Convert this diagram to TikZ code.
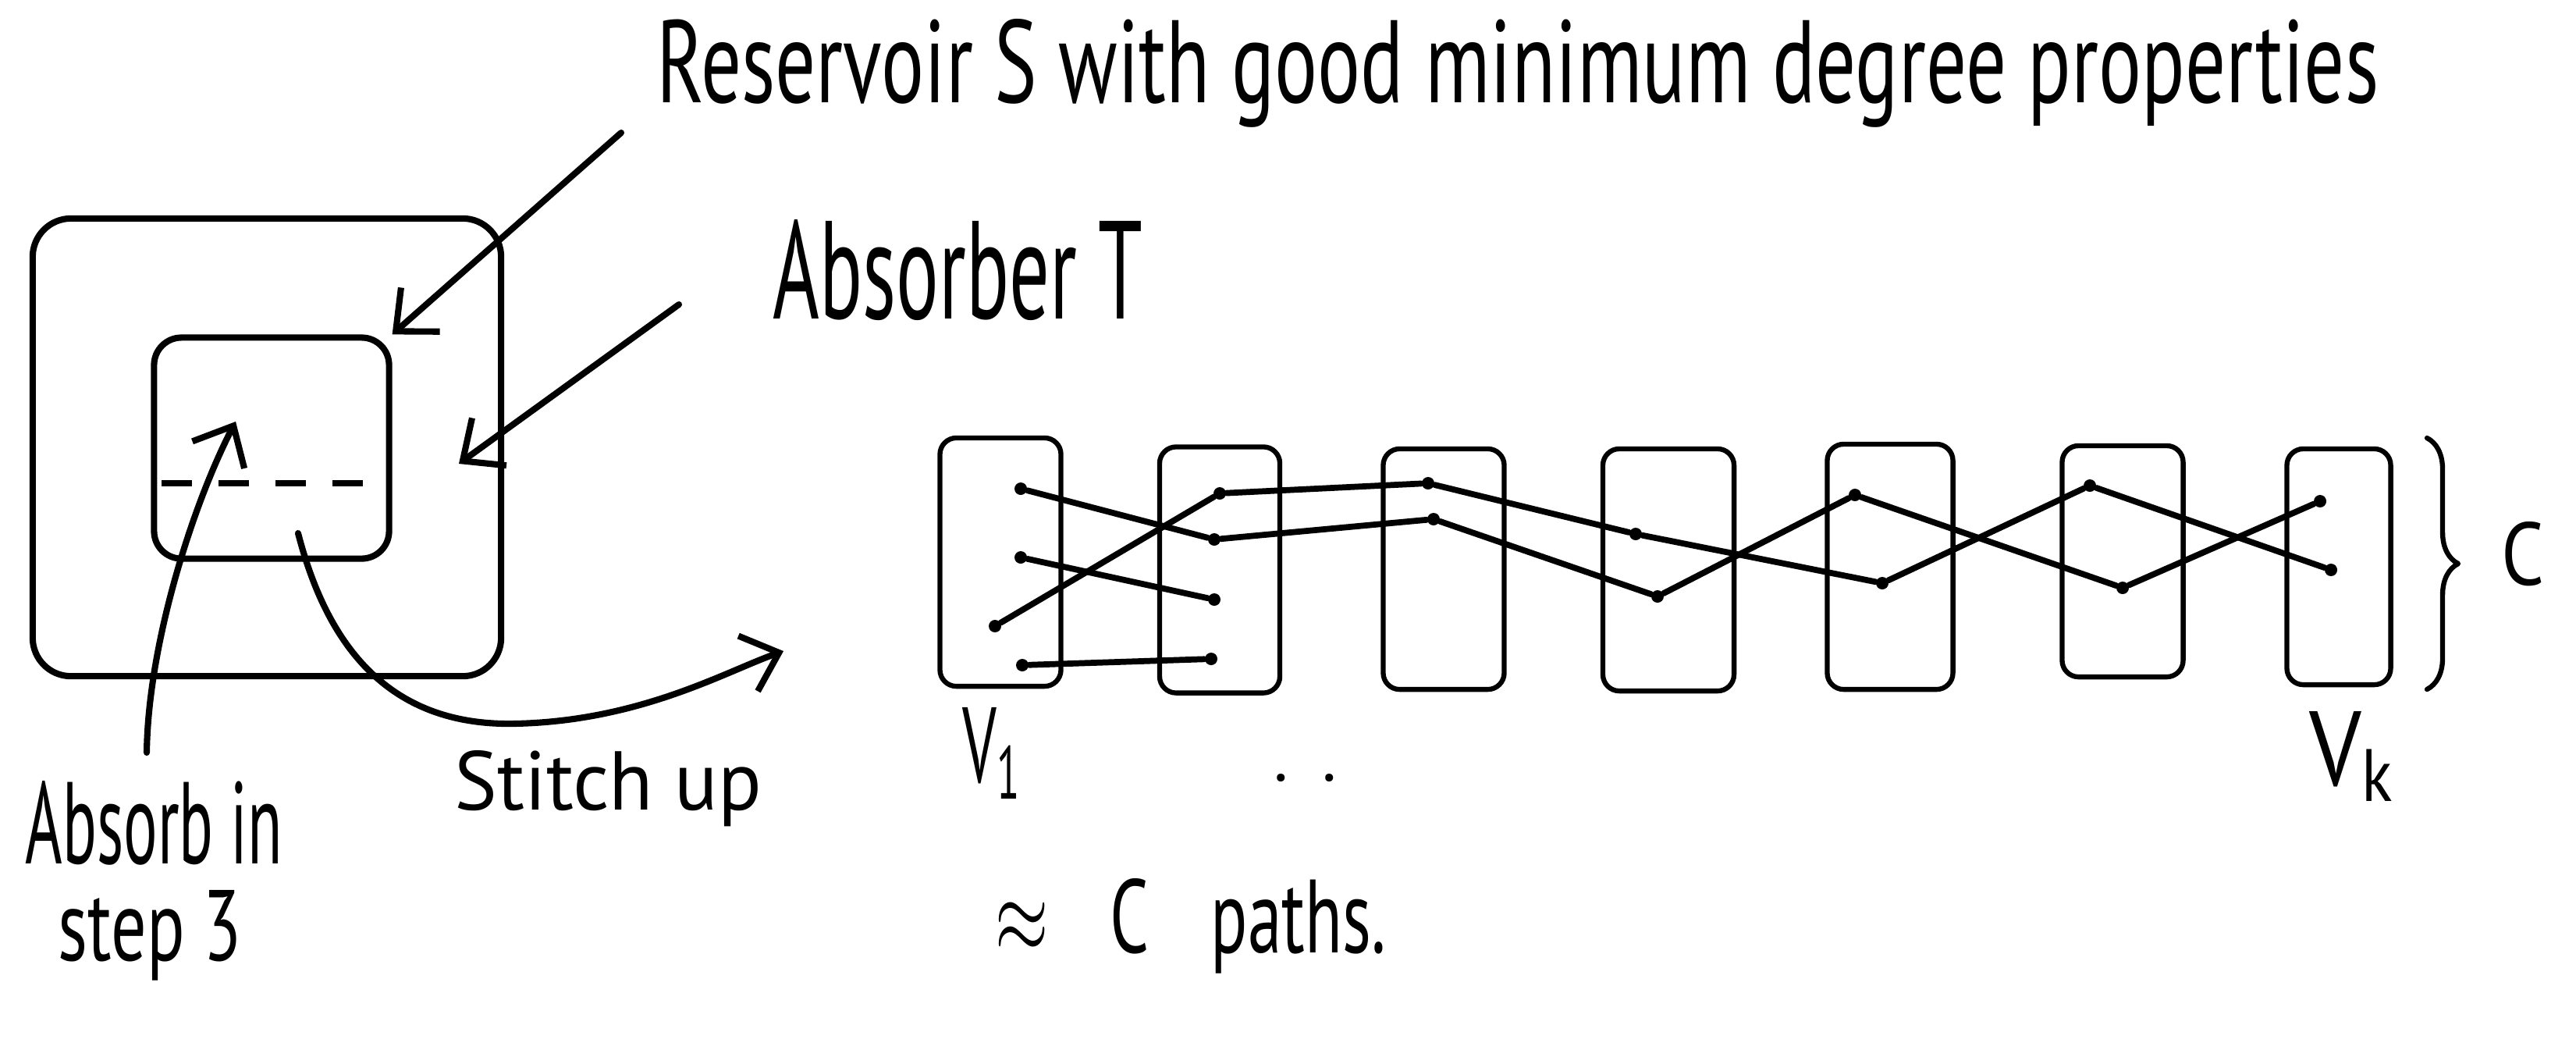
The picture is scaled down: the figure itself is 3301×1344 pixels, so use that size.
\documentclass[tikz,border=0pt]{standalone}
\usepackage{fontspec}
\setmainfont{PT Sans}
\usetikzlibrary{arrows.meta,decorations.pathreplacing}
\begin{document}
\begin{tikzpicture}[x=0.01cm,y=-0.01cm,
  penline/.style={line width=2.3pt, line cap=round, line join=round},
  thinpen/.style={line width=1.8pt, line cap=round, line join=round},
  col/.style={draw, thinpen, rounded corners=6pt, inner sep=0pt},
  vtx/.style={circle, fill, inner sep=0pt, minimum size=0.16cm},
  link/.style={line width=2.2pt, line cap=round},
  arr/.style={penline, -{Straight Barb[length=0.42cm,width=0.75cm]}},
  lbl/.style={inner sep=0pt, anchor=base west},
]
\useasboundingbox (0,0) rectangle (3301,1344);

% left figure
\node[draw, penline, rounded corners=14pt, minimum width=6.0cm, minimum height=5.86cm, inner sep=0pt] (outer) at (342,573) {};
\node[draw, penline, rounded corners=10pt, minimum width=3.01cm, minimum height=2.83cm, inner sep=0pt] (inner) at (348,574) {};
\coordinate (dl) at (207,619);
\coordinate (dr) at (478,619);
\draw[line width=2.3pt, dash pattern=on 0.39cm off 0.34cm] (dl) -- (dr);

% labels
\node[lbl] (resLabel) at (841,131) {\resizebox{22.05cm}{1.07cm}{Reservoir S with good minimum degree properties}};
\node[lbl] (absLabel) at (990,408) {\resizebox{4.73cm}{1.27cm}{Absorber T}};
\node[lbl] (absorbIn) at (32,1106) {\resizebox{3.29cm}{1.06cm}{Absorb in}};
\node[lbl] (step3) at (74,1230) {\resizebox{2.35cm}{0.9cm}{step 3}};
\node[lbl] (stitch) at (582,1037) {\resizebox{3.93cm}{0.76cm}{Stitch up}};
\node[lbl] (vone) at (1233,1002) {\resizebox{0.77cm}{0.96cm}{V\textsubscript{1}}};
\node[lbl] (vkay) at (2959,1006) {\resizebox{1.12cm}{0.95cm}{V\textsubscript{k}}};
\node[lbl] (dots) at (1632,1000) {\resizebox{0.8cm}{!}{.\hspace{0.5em}.}};
\node[lbl] (paths) at (1275,1220) {\resizebox{5.0cm}{0.95cm}{$\approx$\hspace{0.9em}C\hspace{0.9em}paths.}};
\node[lbl] (cLabel) at (3205,749) {\resizebox{0.55cm}{0.81cm}{C}};

% arrows
\coordinate (resTail) at (796,170);
\draw[arr] (resTail) -- (inner.north east);
\coordinate (absTail) at (870,390);
\coordinate (absHead) at (588,594);
\draw[arr] (absTail) -- (absHead);
\coordinate (stepTail) at (188,964);
\coordinate (stepHead) at (302,540);
\draw[arr] (stepTail) .. controls (190,820) and (250,640) .. (stepHead);
\coordinate (stitchTail) at (382,683);
\coordinate (stitchHead) at (1004,834);
\draw[arr] (stitchTail) .. controls (420,830) and (500,930) .. (659,927) .. controls (820,924) and (930,860) .. (stitchHead);

% columns
\node[col, minimum width=1.55cm, minimum height=3.18cm] (col1) at (1282,720) {};
\node[col, minimum width=1.54cm, minimum height=3.15cm] (col2) at (1563,730) {};
\node[col, minimum width=1.55cm, minimum height=3.08cm] (col3) at (1850,729) {};
\node[col, minimum width=1.68cm, minimum height=3.10cm] (col4) at (2138,730) {};
\node[col, minimum width=1.61cm, minimum height=3.14cm] (col5) at (2422,726) {};
\node[col, minimum width=1.55cm, minimum height=2.96cm] (col6) at (2720,719) {};
\node[col, minimum width=1.33cm, minimum height=3.02cm] (col7) at (2997,726) {};

\coordinate (braceTop) at (3110,561);
\coordinate (braceBot) at (3110,883);
\draw[thinpen, decorate, decoration={brace, amplitude=0.4cm}] (braceTop) -- (braceBot);

% vertices
\node[vtx] (v11) at (1308,626) {};
\node[vtx] (v12) at (1308,714) {};
\node[vtx] (v13) at (1275,802) {};
\node[vtx] (v14) at (1310,852) {};
\node[vtx] (v21) at (1563,632) {};
\node[vtx] (v22) at (1556,691) {};
\node[vtx] (v23) at (1556,768) {};
\node[vtx] (v24) at (1552,844) {};
\node[vtx] (v31) at (1830,619) {};
\node[vtx] (v32) at (1837,665) {};
\node[vtx] (v41) at (2096,684) {};
\node[vtx] (v42) at (2124,764) {};
\node[vtx] (v51) at (2377,634) {};
\node[vtx] (v52) at (2412,747) {};
\node[vtx] (v61) at (2678,622) {};
\node[vtx] (v62) at (2720,753) {};
\node[vtx] (v71) at (2973,642) {};
\node[vtx] (v72) at (2987,730) {};

% edges
\draw[link] (v11) -- (v22);
\draw[link] (v13) -- (v21);
\draw[link] (v12) -- (v23);
\draw[link] (v14) -- (v24);
\draw[link] (v21) -- (v31);
\draw[link] (v22) -- (v32);
\draw[link] (v31) -- (v41);
\draw[link] (v32) -- (v42);
\draw[link] (v41) -- (v52);
\draw[link] (v42) -- (v51);
\draw[link] (v51) -- (v62);
\draw[link] (v52) -- (v61);
\draw[link] (v61) -- (v72);
\draw[link] (v62) -- (v71);
\end{tikzpicture}
\end{document}
